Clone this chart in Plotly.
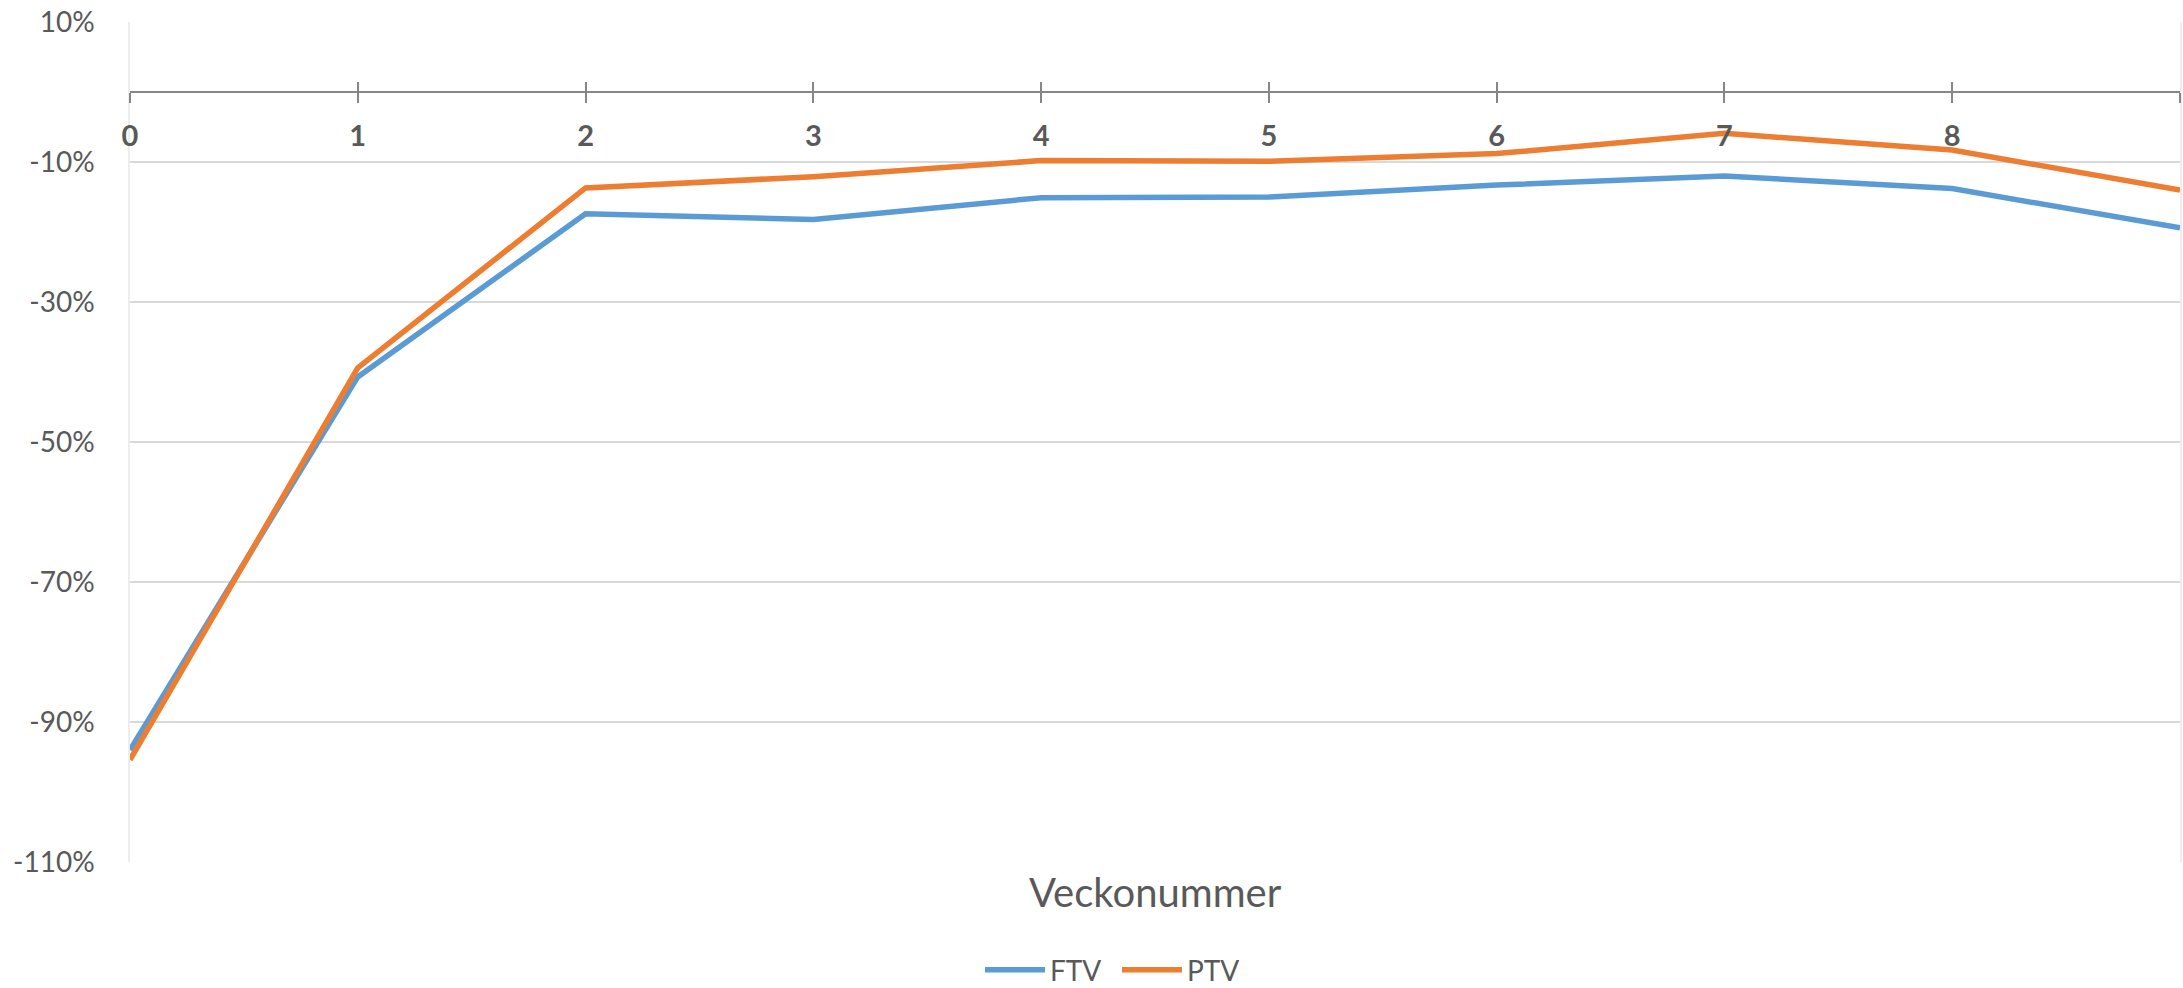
import plotly.graph_objects as go

weeks = [0, 1, 2, 3, 4, 5, 6, 7, 8, 9]
week_labels = ["0", "1", "2", "3", "4", "5", "6", "7", "8", ""]
ftv = [-94.0, -40.7, -17.4, -18.2, -15.1, -15.0, -13.3, -12.0, -13.8, -19.4]
ptv = [-95.4, -39.4, -13.7, -12.1, -9.8, -9.9, -8.8, -5.9, -8.3, -14.0]
y_ticks = [10, -10, -30, -50, -70, -90, -110]
y_tick_labels = ["10%", "-10%", "-30%", "-50%", "-70%", "-90%", "-110%"]

TXT = "#595959"
FONT = "Lato, 'Open Sans', sans-serif"
y_min, y_max = -110, 10
zero_pos = (0 - y_min) / (y_max - y_min)
PLOT_H = 840
PLOT_W = 2050

fig = go.Figure()
fig.add_trace(go.Scatter(x=weeks, y=ftv, name="FTV", mode="lines",
                         line=dict(color="#5B9BD5", width=5.5)))
fig.add_trace(go.Scatter(x=weeks, y=ptv, name="PTV", mode="lines",
                         line=dict(color="#ED7D31", width=5.5)))

fig.update_layout(
    width=2183, height=988,
    margin=dict(l=130, r=3, t=22, b=126, autoexpand=False),
    paper_bgcolor="white", plot_bgcolor="white",
    font=dict(family=FONT, color=TXT, size=28),
    showlegend=True,
    legend=dict(orientation="h", x=(980 - 130) / PLOT_W, xanchor="left",
                y=-108 / PLOT_H, yanchor="middle",
                font=dict(size=28, color=TXT), itemwidth=60, entrywidth=62,
                entrywidthmode="pixels"),
    xaxis=dict(range=[0, 9], tickvals=weeks, ticktext=week_labels,
               anchor="free", position=zero_pos, automargin=False,
               showgrid=False, zeroline=False,
               showline=True, linecolor="#868686", linewidth=1.5,
               ticks="outside", ticklen=10, tickwidth=1.5, tickcolor="#868686",
               tickfont=dict(family=FONT, size=29, color=TXT, weight="bold"),
               ticklabelstandoff=8, ticklabeloverflow="allow"),
    xaxis2=dict(range=[0, 9], tickvals=weeks, overlaying="x",
                anchor="free", position=zero_pos, automargin=False,
                showgrid=False, zeroline=False, showline=False,
                ticks="inside", ticklen=10, tickwidth=1.5, tickcolor="#868686",
                showticklabels=False),
    yaxis=dict(range=[y_min, y_max], tickvals=y_ticks, ticktext=y_tick_labels,
               automargin=False,
               showgrid=True, gridcolor="#D9D9D9", gridwidth=1.5,
               zeroline=False, showline=True, mirror=True,
               linecolor="#EDEDED", linewidth=1.5, ticks="",
               tickfont=dict(family=FONT, size=28, color=TXT),
               ticklabelstandoff=28, ticklabeloverflow="allow"),
    annotations=[dict(text="Veckonummer", xref="paper", yref="paper",
                      x=0.5, y=-30 / PLOT_H, xanchor="center", yanchor="middle",
                      showarrow=False, font=dict(family=FONT, size=40, color=TXT))],
)
fig.add_trace(go.Scatter(x=[None], y=[None], xaxis="x2", showlegend=False, hoverinfo="skip"))

fig.write_html("out.html", config={"displayModeBar": False},
               post_script="document.body.style.margin='0';document.body.style.overflow='hidden';")
